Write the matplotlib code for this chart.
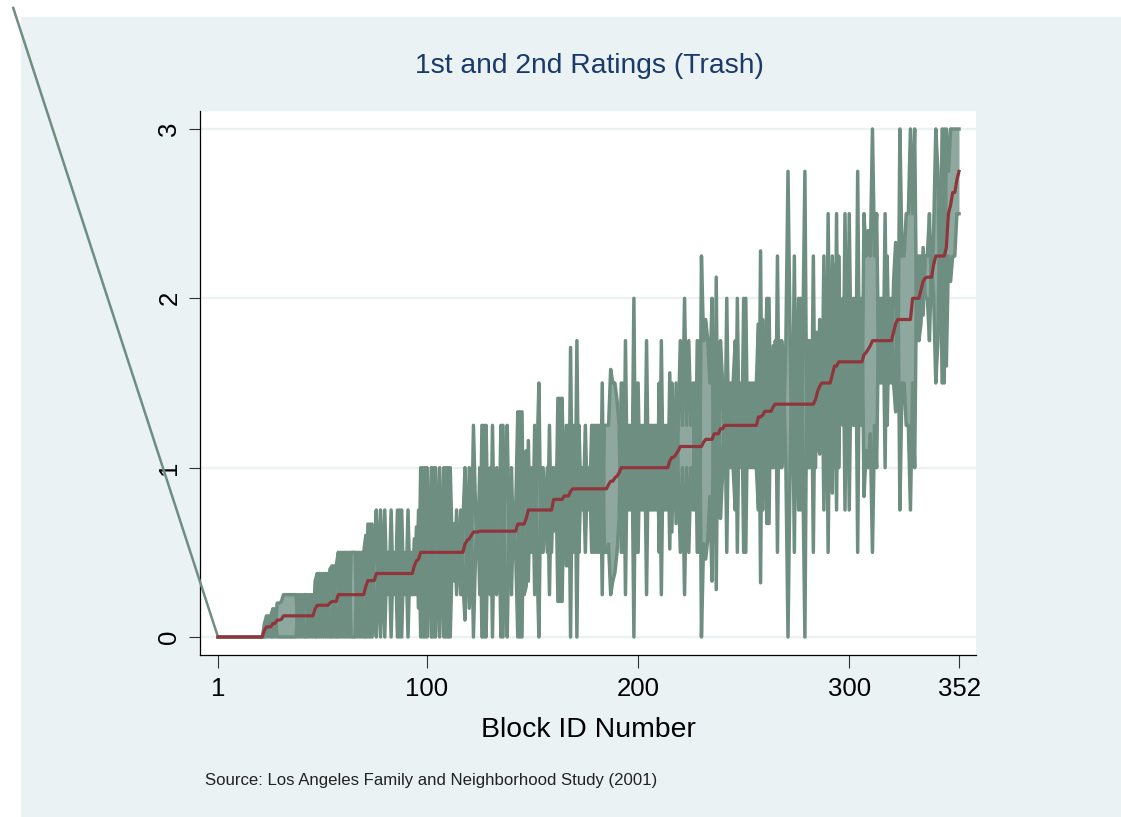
import matplotlib
matplotlib.use('Agg')
import matplotlib.pyplot as plt
from matplotlib.patches import Rectangle

# colours of the Stata s2color look
panel_col = '#EAF2F3'
green_col = '#6E8E82'
fill_col = '#8FA89F'
red_col = '#90353B'
title_col = '#1A3A6A'

x_ticks = [1, 100, 200, 300, 352]
y_ticks = [0, 1, 2, 3]

# stray outline segment that leaves the plot region at the top left
stray_x = [-96, 1]
stray_y = [3.715, 0]

# mean of both ratings, block 1 to 352, ten per row
mean_rating = [
    0, 0, 0, 0, 0, 0, 0, 0, 0, 0,
    0, 0, 0, 0, 0, 0, 0, 0, 0, 0,
    0, 0, .04, .06, .06, .06, .08, .08, .1, .1,
    .104, .125, .125, .125, .125, .125, .125, .125, .125, .125,
    .125, .125, .125, .125, .125, .125, .167, .1875, .1875, .1875,
    .1875, .1875, .1875, .2, .21, .21, .21, .25, .25, .25,
    .25, .25, .25, .25, .25, .25, .25, .25, .25, .25,
    .3, .333, .333, .333, .333, .375, .375, .375, .375, .375,
    .375, .375, .375, .375, .375, .375, .375, .375, .375, .375,
    .375, .375, .375, .42, .45, .46, .5, .5, .5, .5,
    .5, .5, .5, .5, .5, .5, .5, .5, .5, .5,
    .5, .5, .5, .5, .5, .5, .5, .55, .57, .58,
    .6, .62, .62, .62, .625, .625, .625, .625, .625, .625,
    .625, .625, .625, .625, .625, .625, .625, .625, .625, .625,
    .625, .625, .667, .667, .667, .667, .7, .75, .75, .75,
    .75, .75, .75, .75, .75, .75, .75, .75, .75, .8125,
    .8125, .8125, .8125, .8125, .833, .833, .833, .86, .875, .875,
    .875, .875, .875, .875, .875, .875, .875, .875, .875, .875,
    .875, .875, .875, .875, .875, .9, .92, .92, .94, .95,
    .97, 1, 1, 1, 1, 1, 1, 1, 1, 1,
    1, 1, 1, 1, 1, 1, 1, 1, 1, 1,
    1, 1, 1, 1, 1.04, 1.06, 1.0625, 1.08, 1.1, 1.125,
    1.125, 1.125, 1.125, 1.125, 1.125, 1.125, 1.125, 1.125, 1.125, 1.125,
    1.15, 1.167, 1.167, 1.167, 1.167, 1.2, 1.2, 1.2, 1.23, 1.23,
    1.25, 1.25, 1.25, 1.25, 1.25, 1.25, 1.25, 1.25, 1.25, 1.25,
    1.25, 1.25, 1.25, 1.25, 1.25, 1.25, 1.3, 1.3, 1.31, 1.333,
    1.333, 1.333, 1.333, 1.36, 1.375, 1.375, 1.375, 1.375, 1.375, 1.375,
    1.375, 1.375, 1.375, 1.375, 1.375, 1.375, 1.375, 1.375, 1.375, 1.375,
    1.375, 1.375, 1.375, 1.4, 1.45, 1.48, 1.5, 1.5, 1.5, 1.5,
    1.5, 1.55, 1.6, 1.6, 1.625, 1.625, 1.625, 1.625, 1.625, 1.625,
    1.625, 1.625, 1.625, 1.625, 1.625, 1.625, 1.667, 1.68, 1.7, 1.72,
    1.75, 1.75, 1.75, 1.75, 1.75, 1.75, 1.75, 1.75, 1.75, 1.75,
    1.8, 1.85, 1.875, 1.875, 1.875, 1.875, 1.875, 1.875, 1.875, 2,
    2, 2, 2, 2.05, 2.1, 2.12, 2.125, 2.125, 2.125, 2.2,
    2.25, 2.25, 2.25, 2.25, 2.25, 2.3, 2.5, 2.55, 2.625, 2.625,
    2.7, 2.75]

# first rating
rating_1 = [
    0, 0, 0, 0, 0, 0, 0, 0, 0, 0,
    0, 0, 0, 0, 0, 0, 0, 0, 0, 0,
    0, 0, .08, .125, 0, .125, .167, 0, .2, .2,
    .208, .25, .25, .25, .25, .25, .25, .25, 0, .25,
    0, .25, .25, 0, .25, 0, .33, .375, 0, .375,
    0, .375, 0, .4, .42, 0, .42, .5, 0, .5,
    0, .5, 0, .5, .5, .5, 0, .5, 0, .5,
    .6, 0, .667, 0, .5, .75, .25, .75, .25, .75,
    .25, .5, 0, .5, .25, .75, 0, .75, .25, .5,
    0, .5, .25, .58, .25, .75, 0, 1, 0, 1,
    .75, 0, 1, 0, .25, 1, .25, 0, 1, 0,
    1, .5, .33, .75, .5, .25, .67, 1, .4, 1,
    .5, 1.25, .75, .5, 1, 0, 1.25, 0, .75, .25,
    1.25, .5, 1, .75, 0, 1.25, .25, 0, .75, 1,
    .5, .75, 1.33, 0, 1.33, .25, .3, 1.16, .5, 1,
    .25, 1, 1.5, .5, 1, .75, .5, 1.25, .5, 1,
    .625, 1.41, .21, 1.41, .67, 1.25, .42, 1.71, .5, 1.25,
    0, 1.25, .75, 1, .5, 1, .75, 1.25, .5, 1.25,
    .5, 1.25, .25, 1.25, 1.25, 1.25, 1.58, 1.5, 1.5, 1.4,
    1.25, .5, 1.5, .25, 1.25, .75, 1.25, 0, 1.5, .5,
    1.25, .75, 1.25, .25, 1.25, .75, 1.25, .75, 1.25, .5,
    1.75, .75, 1.25, .75, 1.56, .62, 1.25, .67, 1.25, 1.75,
    1.25, 2, 1.25, 1.75, 1.25, 1.5, .75, 1.75, .5, 2.25,
    1.75, 1.875, 1.75, 1.5, 2, .6, 2.125, .75, 1.75, 1.5,
    1, 2, 1, 1.5, 1, .75, 2, 1, 1.5, .5,
    2, 1, 1.5, 1, 1.5, 1, .75, 2.28, .75, 1.5,
    2, .67, 1.67, 1, 1.75, .5, 1.75, 1, 1.25, 1.75,
    2.75, 1.75, 1, 2.25, 1, 2, .75, 1.75, 2.75, 1,
    1, 1.75, .5, 1.8, 1.1, 1.875, 1.25, 2.25, 1, 2.5,
    1.25, 2.25, 1, 2.5, 1, 1.75, 1.25, 2.5, 1.25, 2.5,
    1.5, 1.25, 2, .5, 2, 1.25, 2.5, 2.25, 2.4, 2.25,
    3, 2.25, 2.5, 1.5, 2, 1.5, 2.5, 1.25, 2, 1.5,
    2.1, 2.33, 1.5, 3, 2.25, 2.25, 2.5, 2.5, 3, 2.5,
    3, 1.75, 2.25, 2.25, 1.9, 2.25, 2.25, 2.5, 2, 2.4,
    3, 2.75, 2, 3, 1.5, 3, 2.75, 3, 3, 3,
    3, 3]

# second rating
rating_2 = [
    0, 0, 0, 0, 0, 0, 0, 0, 0, 0,
    0, 0, 0, 0, 0, 0, 0, 0, 0, 0,
    0, 0, 0, 0, .125, 0, 0, .167, 0, 0,
    0, 0, 0, 0, 0, 0, 0, 0, .25, 0,
    .25, 0, 0, .25, 0, .25, 0, 0, .375, 0,
    .375, 0, .375, 0, 0, .42, 0, 0, .5, 0,
    .5, 0, .5, 0, 0, 0, .5, 0, .5, 0,
    0, .667, 0, .667, .167, 0, .5, 0, .5, 0,
    .5, .25, .75, .25, .5, 0, .75, 0, .5, .25,
    .75, .25, .5, .25, .65, .17, 1, 0, 1, 0,
    .25, 1, 0, 1, .75, 0, .75, 1, 0, 1,
    0, .5, .67, .25, .5, .75, .33, .1, .75, .17,
    .7, 0, .5, .75, .25, 1.25, 0, 1.25, .5, 1,
    0, .75, .25, .5, 1.25, 0, 1, 1.25, .5, .25,
    .75, .5, 0, 1.33, 0, 1.08, 1.1, .33, 1, .5,
    1.25, .5, 0, 1, .5, .75, 1, .25, 1, .625,
    1, .21, 1.41, .21, 1, .42, 1.25, 0, 1.25, .5,
    1.75, .5, 1, .75, 1.25, .75, 1, .5, 1.25, .5,
    1.25, .5, 1.5, .5, .5, .55, .25, .33, .38, .5,
    .7, 1.5, .5, 1.75, .75, 1.25, .75, 2, .5, 1.5,
    .75, 1.25, .75, 1.75, .75, 1.25, .75, 1.25, .75, 1.5,
    .25, 1.25, .75, 1.25, .52, 1.5, .875, 1.5, .95, .5,
    1, .25, 1, .5, 1, .75, 1.5, .5, 1.75, 0,
    .55, .46, .58, .83, .33, 1.8, .28, 1.65, .7, .96,
    1.5, .5, 1.5, 1, 1.5, 1.75, .5, 1.5, 1, 2,
    .5, 1.5, 1, 1.5, 1, 1.5, 1.85, .32, 1.875, 1.17,
    .67, 2, 1, 1.72, 1, 2.25, 1, 1.75, 1.5, 1,
    0, 1, 1.75, .5, 1.75, .75, 2, 1, 0, 1.75,
    1.75, 1, 2.25, 1, 1.8, 1.08, 1.75, .75, 2, .5,
    1.75, .85, 2.2, .75, 2.25, 1.5, 2, .75, 2, .75,
    1.75, 2, 1.25, 2.75, 1.25, 2, .83, 1.1, 1, 1.2,
    .5, 1.25, 1, 2, 1.5, 2, 1, 2.25, 1.5, 2,
    1.5, 1.33, 2.25, .75, 1.5, 1.5, 1.25, 1.25, .75, 1.5,
    1, 2.25, 1.75, 1.85, 2.3, 2, 2, 1.75, 2.25, 2,
    1.5, 1.75, 2.5, 1.5, 3, 1.6, 2.25, 2.1, 2.25, 2.25,
    2.5, 2.5]

block_id = list(range(1, len(mean_rating) + 1))

plt.rcParams['font.family'] = ['Liberation Sans', 'DejaVu Sans']

W, H = 1121, 817
fig = plt.figure(figsize=(W / 100, H / 100), dpi=100, facecolor='white')
fig.add_artist(Rectangle((21 / W, 0), 1 - 21 / W, 1 - 17 / H, transform=fig.transFigure,
                         facecolor=panel_col, edgecolor='none', zorder=-5))

ax = fig.add_axes([200 / W, 1 - 655 / H, 776 / W, 544 / H])
ax.set_facecolor('white')

# scale comes from where the ticks sit in the picture
ax.set_xlim(-7.53, 360.05)
ax.set_ylim(-0.1063, 3.1063)

for v in y_ticks:
    ax.axhline(v, color=panel_col, lw=1.7, zorder=1)

ax.fill_between(block_id, rating_1, rating_2, color=fill_col, lw=0, zorder=2)
ax.plot(block_id, rating_1, color=green_col, lw=2.5, zorder=3, solid_joinstyle='round')
ax.plot(block_id, rating_2, color=green_col, lw=2.5, zorder=3, solid_joinstyle='round')
ax.plot(stray_x, stray_y, color=green_col, lw=1.8, zorder=3, clip_on=False)
ax.plot(block_id, mean_rating, color=red_col, lw=2.3, zorder=4)

for s in ['top', 'right']:
    ax.spines[s].set_visible(False)
for s in ['left', 'bottom']:
    ax.spines[s].set_linewidth(0.9)
    ax.spines[s].set_color('black')

ax.set_xticks(x_ticks)
ax.set_yticks(y_ticks)
ax.tick_params(axis='x', length=9, width=0.8, color='#333333', labelsize=18.5, pad=6.5)
ax.tick_params(axis='y', length=8, width=0.8, color='#333333', labelsize=18.5, pad=5.5)
for t in ax.get_yticklabels():
    t.set_rotation(90)
    t.set_va('center')

fig.text(589 / W, 1 - 66 / H, '1st and 2nd Ratings (Trash)', color=title_col, fontsize=20.3,
         ha='center', va='center')
fig.text(588.5 / W, 1 - 730 / H, 'Block ID Number', color='black', fontsize=20.4,
         ha='center', va='center')
fig.text(205 / W, 1 - 780 / H, 'Source: Los Angeles Family and Neighborhood Study (2001)',
         color='#222222', fontsize=12.1, ha='left', va='center')

fig.savefig('out.png', dpi=100, facecolor=fig.get_facecolor())
